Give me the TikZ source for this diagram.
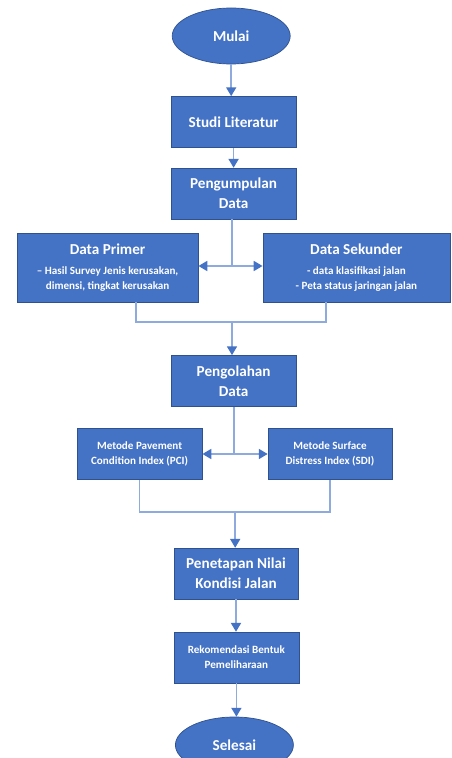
\documentclass[tikz,border=0pt]{standalone}
\usepackage{fontspec}
\setmainfont{Carlito}
\usetikzlibrary{shapes.geometric,arrows.meta}
\definecolor{boxblue}{HTML}{4472C4}
\definecolor{boxedge}{HTML}{2F528F}
\definecolor{linkblue}{HTML}{8FAADC}
\newcommand{\titlefont}{\fontsize{10.8}{14.2}\selectfont\bfseries}
\newcommand{\notefont}{\fontsize{7.9}{10.7}\selectfont\bfseries}
\tikzset{
  stepbox/.style={rectangle,draw=boxedge,fill=boxblue,line width=0.5pt,
    text=white,align=center,inner sep=2pt,font=\titlefont,
    minimum width=3.125cm,minimum height=1.275cm},
  notebox/.style={stepbox,font=\notefont},
  termbox/.style={ellipse,draw=boxedge,fill=boxblue,line width=0.5pt,font=\titlefont,
    text=white,inner sep=0pt,minimum width=2.95cm,minimum height=1.4cm},
  link/.style={draw=linkblue,line width=1pt},
  flow/.style={link,-{Triangle[length=0.22cm,width=0.25cm,color=boxblue]}}
}
\begin{document}
\begin{tikzpicture}
    \useasboundingbox (0,0) rectangle (11.3,18.95);
    % Main column, upper part
    \node[termbox] (mulai) at (5.78,18.05) {Mulai};
    \node[stepbox] (studi) at (5.84,15.9) {Studi Literatur};
    \node[stepbox] (kumpul) at (5.84,14.11) {Pengumpulan\\Data};
    % Data sources
    \node[notebox,minimum width=4.525cm,minimum height=1.725cm] (primer) at (2.69,12.26)
      {{\titlefont Data Primer}\\[3pt]– Hasil Survey Jenis kerusakan,\\dimensi, tingkat kerusakan};
    \node[notebox,minimum width=4.675cm,minimum height=1.725cm] (sekunder) at (8.91,12.26)
      {{\titlefont Data Sekunder}\\[3pt]- data klasifikasi jalan\\- Peta status jaringan jalan};
    \node[stepbox] (olah) at (5.84,9.425) {Pengolahan\\Data};
    % Methods
    \node[notebox] (pci) at (3.49,7.6) {Metode Pavement\\Condition Index (PCI)};
    \node[notebox,minimum width=3.1cm] (sdi) at (8.25,7.6) {Metode Surface\\Distress Index (SDI)};
    % Main column, lower part
    \node[stepbox,minimum width=3.1cm] (tetap) at (5.9,4.61) {Penetapan Nilai\\Kondisi Jalan};
    \node[notebox] (rekom) at (5.91,2.51) {Rekomendasi Bentuk\\Pemeliharaan};
    \node[termbox] (selesai) at (5.86,0.325) {Selesai};
    % Junctions
    \coordinate (j1) at (5.8,12.3);
    \coordinate (m1) at (5.8,10.9);
    \coordinate (j2) at (5.85,7.6);
    \coordinate (m2) at (5.88,6.15);
    % Connectors
    \draw[flow] (mulai) -- (mulai |- studi.north);
    \draw[flow] (studi) -- (studi |- kumpul.north);
    \draw[link] (kumpul.south -| j1) -- (j1);
    \draw[flow] (j1) -- (primer.east |- j1);
    \draw[flow] (j1) -- (sekunder.west |- j1);
    \draw[link] ([xshift=0.71cm]primer.south) |- (m1) -| ([xshift=-0.76cm]sekunder.south);
    \draw[flow] (m1) -- (m1 |- olah.north);
    \draw[link] (olah.south -| j2) -- (j2);
    \draw[flow] (j2) -- (pci);
    \draw[flow] (j2) -- (sdi);
    \draw[link] (pci.south) |- (m2) -| (sdi.south);
    \draw[flow] (m2) -- (m2 |- tetap.north);
    \draw[flow] (tetap) -- (tetap |- rekom.north);
    \draw[flow] (rekom) -- (rekom |- selesai.north);
\end{tikzpicture}
\end{document}
